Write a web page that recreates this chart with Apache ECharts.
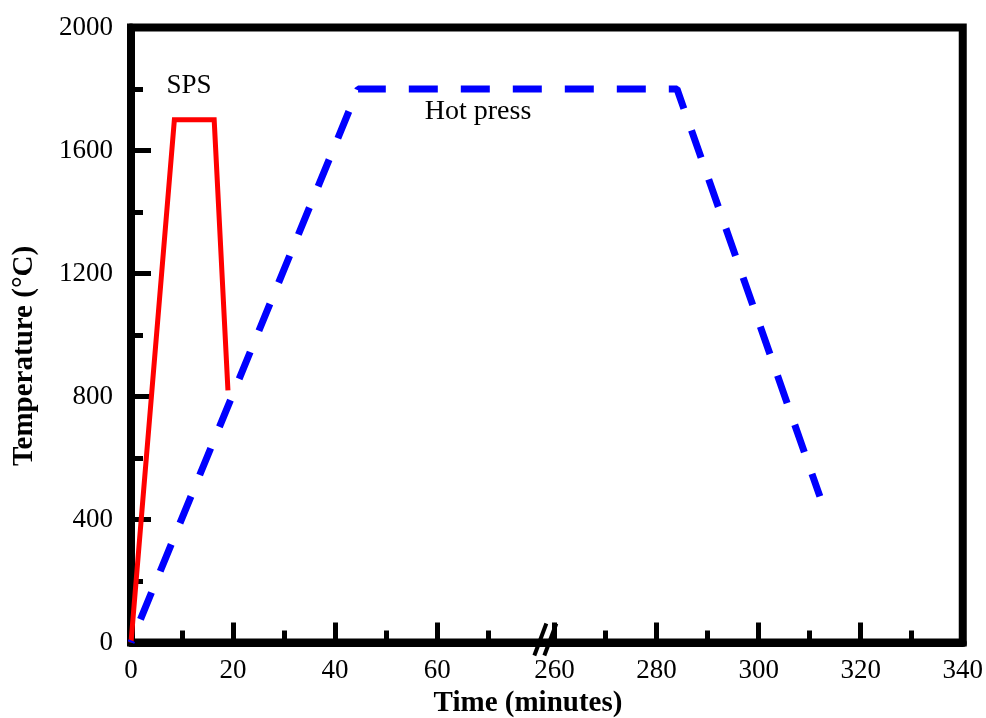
<!DOCTYPE html>
<html>
<head>
<meta charset="utf-8">
<script src="https://cdn.jsdelivr.net/npm/echarts@6/dist/echarts.min.js"></script>
<style>
html,body{margin:0;padding:0;background:#fff;}
#chart{width:986px;height:718px;}
</style>
</head>
<body>
<div id="chart"></div>
<script>
// ---- data (minutes / °C) ----
const spsTime = [0, 8.5, 16.3, 19];
const spsTemp = [0, 1700, 1700, 820];
const hpTime = [0, 44.5, 284, 312];
const hpTemp = [0, 1800, 1800, 475];
const xMajorTicks = [0, 20, 40, 60, 260, 280, 300, 320, 340];
const xMinorTicks = [10, 30, 50, 70, 270, 290, 310, 330];
const yTicks = [0, 400, 800, 1200, 1600, 2000];
const seriesNames = ['SPS', 'Hot press'];

// broken x axis: 80..260 collapsed to a small gap
const BREAK_LO = 80, BREAK_HI = 260, GAP = 3;
function toAxis(m) { return m <= BREAK_LO ? m : m - BREAK_HI + BREAK_LO + GAP; }
function fromAxis(t) { return t <= BREAK_LO ? t : t + BREAK_HI - BREAK_LO - GAP; }

const FONT = '"Liberation Serif", "Times New Roman", serif';
const chart = echarts.init(document.getElementById('chart'), null, {renderer: 'canvas'});

const xMin = toAxis(xMajorTicks[0]);
const xMax = toAxis(xMajorTicks[xMajorTicks.length - 1]);

const option = {
  animation: false,
  backgroundColor: '#fff',
  grid: {left: 131, right: 23, top: 27.5, bottom: 75.5, show: true, borderColor: '#000', borderWidth: 8, containLabel: false},
  xAxis: [{
    type: 'value', min: xMin, max: xMax, position: 'bottom',
    axisLine: {show: true, onZero: false, lineStyle: {color: '#000', width: 8}},
    axisTick: {show: true, inside: true, length: 20, customValues: xMajorTicks.map(toAxis), lineStyle: {color: '#000', width: 5}},
    axisLabel: {customValues: xMajorTicks.map(toAxis), formatter: v => String(Math.round(fromAxis(v))), margin: 15,
      fontFamily: FONT, fontSize: 27, color: '#000'},
    splitLine: {show: false}
  }, {
    type: 'value', min: xMin, max: xMax, position: 'bottom',
    axisLine: {show: false, onZero: false},
    axisTick: {show: true, inside: true, length: 12, customValues: xMinorTicks.map(toAxis), lineStyle: {color: '#000', width: 5}},
    axisLabel: {show: false},
    splitLine: {show: false}
  }],
  yAxis: [{
    type: 'value', min: yTicks[0], max: yTicks[yTicks.length - 1], interval: yTicks[1] - yTicks[0],
    axisLine: {show: true, onZero: false, lineStyle: {color: '#000', width: 8}},
    axisTick: {show: true, inside: true, length: 20, lineStyle: {color: '#000', width: 5}},
    minorTick: {show: true, splitNumber: 2, length: 12, lineStyle: {color: '#000', width: 5}},
    axisLabel: {margin: 18, fontFamily: FONT, fontSize: 27, color: '#000', formatter: v => String(v)},
    splitLine: {show: false}, minorSplitLine: {show: false}
  }],
  series: [{
    name: seriesNames[0], type: 'line', xAxisIndex: 0, yAxisIndex: 0, symbol: 'none',
    data: spsTime.map((t, i) => [toAxis(t), spsTemp[i]]),
    lineStyle: {color: '#ff0000', width: 5, join: 'miter'}
  }, {
    name: seriesNames[1], type: 'line', xAxisIndex: 0, yAxisIndex: 0, symbol: 'none',
    data: hpTime.map((t, i) => [toAxis(t), hpTemp[i]]),
    lineStyle: {color: '#0000ff', width: 7, type: [29, 23], dashOffset: 27, cap: 'butt'}
  }]
};
chart.setOption(option);

// decorations: axis titles, annotations, axis-break mark
const bx = chart.convertToPixel({xAxisIndex: 0}, (BREAK_LO + toAxis(BREAK_HI)) / 2 - 0.3);
const by = chart.convertToPixel({yAxisIndex: 0}, 0);
function slash(cx) {
  return {type: 'line', shape: {x1: cx - 6, y1: by + 13, x2: cx + 6, y2: by - 19},
    style: {stroke: '#000', lineWidth: 4}, z: 100};
}
chart.setOption({
  graphic: [
    slash(bx - 5), slash(bx + 5),
    {type: 'text', x: 528, y: 704, style: {text: 'Time (minutes)', fontFamily: FONT, fontSize: 29, fontWeight: 'bold', fill: '#000', align: 'center', verticalAlign: 'middle'}},
    {type: 'text', x: 25, y: 356, rotation: Math.PI / 2, style: {text: 'Temperature (°C)', fontFamily: FONT, fontSize: 29, fontWeight: 'bold', fill: '#000', align: 'center', verticalAlign: 'middle'}},
    {type: 'text', x: 189, y: 86, style: {text: seriesNames[0], fontFamily: FONT, fontSize: 27, fill: '#000', align: 'center', verticalAlign: 'middle'}},
    {type: 'text', x: 478, y: 112, style: {text: seriesNames[1], fontFamily: FONT, fontSize: 28, fill: '#000', align: 'center', verticalAlign: 'middle'}}
  ]
});
</script>
</body>
</html>
